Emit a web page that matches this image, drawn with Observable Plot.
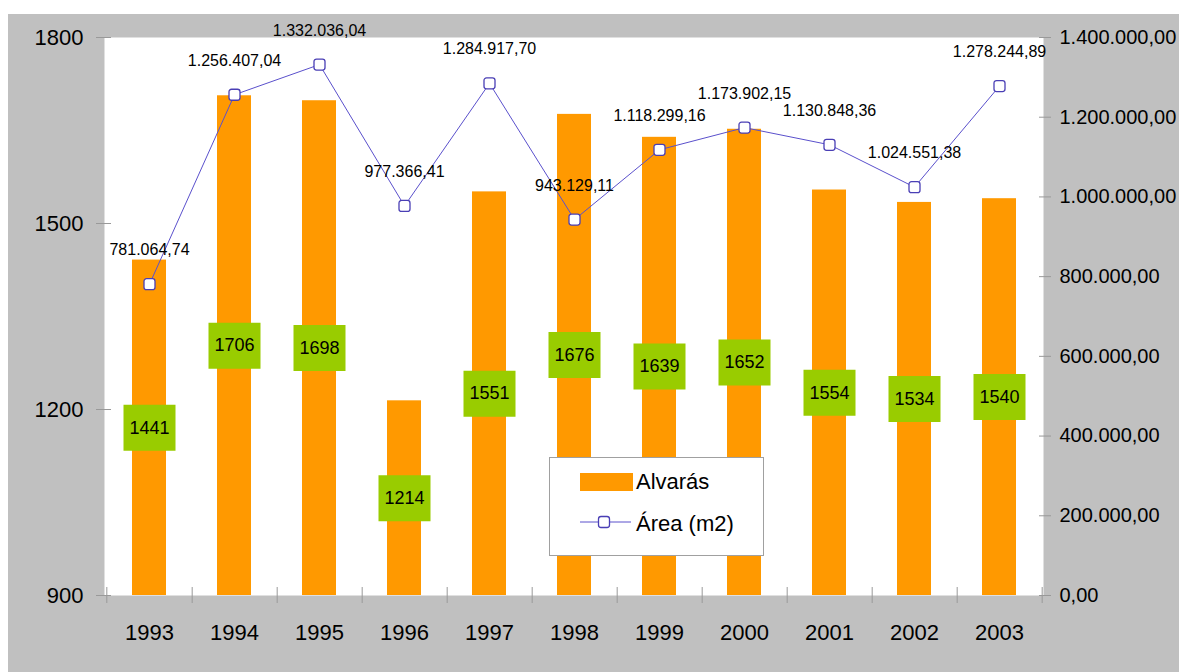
<!DOCTYPE html>
<html>
<head>
<meta charset="utf-8">
<script src="https://cdn.jsdelivr.net/npm/d3@7"></script>
<script src="https://cdn.jsdelivr.net/npm/@observablehq/plot@0.6"></script>
<style>
  html, body { margin: 0; padding: 0; background: #ffffff; }
  #wrap { position: relative; width: 1179px; height: 672px; overflow: hidden; font-family: "Liberation Sans", Arial, sans-serif; }
  #chart { position: absolute; left: 8px; top: 14px; }
  #legend { position: absolute; left: 549px; top: 457px; }
</style>
</head>
<body>
<div id="wrap">
  <div id="chart"></div>
  <div id="legend"></div>
</div>
<script>
const years = [1993, 1994, 1995, 1996, 1997, 1998, 1999, 2000, 2001, 2002, 2003];
const alvaras = [1441, 1706, 1698, 1214, 1551, 1676, 1639, 1652, 1554, 1534, 1540];
const area = [781064.74, 1256407.04, 1332036.04, 977366.41, 1284917.70, 943129.11, 1118299.16, 1173902.15, 1130848.36, 1024551.38, 1278244.89];
const leftTicks = [900, 1200, 1500, 1800];
const rightTicks = [0, 200000, 400000, 600000, 800000, 1000000, 1200000, 1400000];
const seriesNames = ["Alvarás", "Área (m2)"];

const leftMin = 900, leftMax = 1800, rightMax = 1400000;
const toY = v => leftMin + v * (leftMax - leftMin) / rightMax;
const fromY = y => (y - leftMin) * rightMax / (leftMax - leftMin);

const br = d3.formatLocale({decimal: ",", thousands: ".", grouping: [3], currency: ["", ""]});
const fmt = br.format(",.2f");

const data = years.map((y, i) => ({year: y, alvaras: alvaras[i], area: area[i]}));

const W = 1171, H = 658, ML = 96, MR = 136, MT = 23, MB = 77;
const step = (W - ML - MR) / years.length;

const orange = "#ff9900", green = "#99cc00", lineColor = "#5a50cc", markColor = "#4a3fb5";
const boxSymbol = { draw(ctx) { ctx.rect(-26, -23, 52, 46); } };
const roundSquare = { draw(ctx) {
  const s = 5.5, r = 2.5;
  ctx.moveTo(-s + r, -s);
  ctx.lineTo(s - r, -s); ctx.arcTo(s, -s, s, -s + r, r);
  ctx.lineTo(s, s - r); ctx.arcTo(s, s, s - r, s, r);
  ctx.lineTo(-s + r, s); ctx.arcTo(-s, s, -s, s - r, r);
  ctx.lineTo(-s, -s + r); ctx.arcTo(-s, -s, -s + r, -s, r);
  ctx.closePath();
} };

const chart = Plot.plot({
  width: W, height: H,
  marginLeft: ML, marginRight: MR, marginTop: MT, marginBottom: MB,
  style: { background: "#c0c0c0", fontFamily: "Liberation Sans, Arial, sans-serif", overflow: "visible" },
  x: { type: "band", domain: years, paddingInner: 0.6, paddingOuter: 0.3 },
  y: { domain: [leftMin, leftMax] },
  marks: [
    Plot.frame({ fill: "white", stroke: "none" }),
    Plot.barY(data, { x: "year", y1: leftMin, y2: "alvaras", fill: orange }),
    Plot.ruleX(data, { x: "year", y1: leftMin, y2: leftMin, dx: step / 2, insetTop: -8, insetBottom: -8, stroke: "#999" }),
    Plot.ruleX(data.slice(0, 1), { x: "year", y1: leftMin, y2: leftMin, dx: -step / 2, insetTop: -8, insetBottom: -8, stroke: "#999" }),
    Plot.axisX({ tickSize: 0, tickPadding: 29, fontSize: 22, fill: "black", tickFormat: d => String(d), label: null }),
    Plot.axisY({ ticks: leftTicks, tickSize: 15, dx: 7, tickPadding: 13, fontSize: 22, stroke: "#999", fill: "black", label: null,
      tickFormat: d => String(d) }),
    Plot.axisY(rightTicks.map(toY), { anchor: "right", tickSize: 12, dx: -5, tickPadding: 9, fontSize: 20, stroke: "#999", fill: "black", label: null,
      tickFormat: d => fmt(Math.round(fromY(d))) }),
    Plot.dot(data, { x: "year", y: d => (leftMin + d.alvaras) / 2, symbol: boxSymbol, fill: green, stroke: "none" }),
    Plot.text(data, { x: "year", y: d => (leftMin + d.alvaras) / 2, text: d => String(d.alvaras), fontSize: 18, fill: "black" }),
    Plot.line(data, { x: "year", y: d => toY(d.area), stroke: lineColor, strokeWidth: 1 }),
    Plot.dot(data, { x: "year", y: d => toY(d.area), symbol: roundSquare, fill: "white", stroke: markColor, strokeWidth: 1.3 }),
    Plot.text(data, { x: "year", y: d => toY(d.area), text: d => fmt(d.area), dy: -34, fontSize: 16, fill: "black" })
  ]
});
document.getElementById("chart").appendChild(chart);

// Legend
const lg = d3.select("#legend").append("svg").attr("width", 215).attr("height", 99)
  .style("font-family", "Liberation Sans, Arial, sans-serif");
lg.append("rect").attr("x", 0.5).attr("y", 0.5).attr("width", 214).attr("height", 98).attr("fill", "white").attr("stroke", "#a0a0a0");
lg.append("rect").attr("x", 31).attr("y", 16).attr("width", 53).attr("height", 18).attr("fill", orange);
lg.append("text").attr("x", 87).attr("y", 24).attr("dy", "0.35em").attr("font-size", 22).text(seriesNames[0]);
lg.append("line").attr("x1", 31).attr("x2", 82).attr("y1", 65).attr("y2", 65).attr("stroke", lineColor);
lg.append("rect").attr("x", 49.5).attr("y", 59.5).attr("width", 11).attr("height", 11).attr("rx", 2.5)
  .attr("fill", "white").attr("stroke", markColor).attr("stroke-width", 1.3);
lg.append("text").attr("x", 87).attr("y", 66).attr("dy", "0.35em").attr("font-size", 22).text(seriesNames[1]);
</script>
</body>
</html>
